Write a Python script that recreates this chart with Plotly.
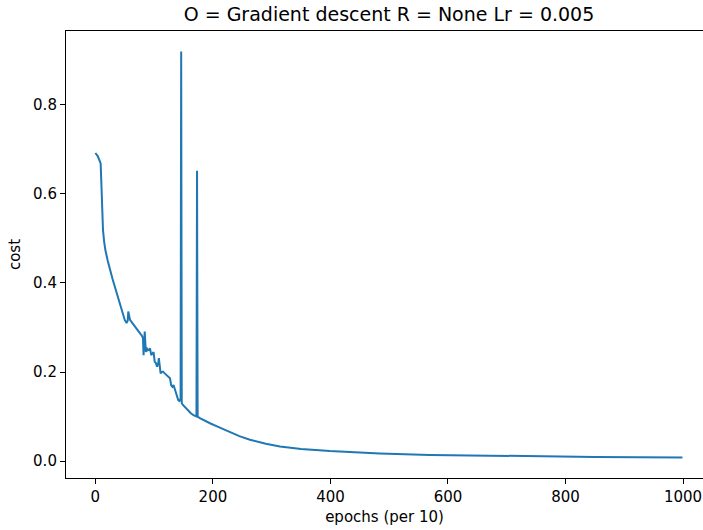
import plotly.graph_objects as go

epochs = [0, 4, 8, 9, 10, 11, 12, 13, 15, 17, 21, 25, 29, 33, 38, 42, 46, 50, 53, 55, 56, 57,
          59, 63, 68, 73, 77, 79, 81, 82, 83, 84, 85, 86, 87, 89, 91, 93, 95, 97, 99, 101,
          103, 105, 107, 108, 109, 111, 113, 115, 118, 121, 124, 127, 129, 131, 133, 135, 137, 139, 141, 143,
          145, 146, 147, 149, 153, 157, 162, 167, 172, 173, 174, 177, 181, 188, 195, 205, 217, 229, 245, 263,
          290, 314, 350, 399, 450, 484, 569, 654, 750, 850, 999]
cost = [0.692, 0.685, 0.672, 0.668, 0.630, 0.575, 0.540, 0.518, 0.492, 0.474, 0.450, 0.428, 0.410, 0.392, 0.370, 0.354, 0.335, 0.317, 0.310, 0.315, 0.336, 0.325,
        0.317, 0.310, 0.300, 0.292, 0.285, 0.282, 0.276, 0.238, 0.260, 0.291, 0.265, 0.245, 0.255, 0.249, 0.250, 0.253, 0.238, 0.243, 0.245, 0.223,
        0.220, 0.212, 0.220, 0.231, 0.215, 0.197, 0.200, 0.201, 0.197, 0.193, 0.190, 0.186, 0.170, 0.167, 0.171, 0.163, 0.156, 0.148, 0.137, 0.135,
        0.140, 0.920, 0.130, 0.126, 0.120, 0.114, 0.108, 0.103, 0.100, 0.652, 0.100, 0.097, 0.094, 0.089, 0.085, 0.079, 0.072, 0.066, 0.056, 0.048,
        0.039, 0.033, 0.027, 0.0225, 0.019, 0.0172, 0.0138, 0.012, 0.0105, 0.0094, 0.0083]

x_ticks = [0, 200, 400, 600, 800, 1000]
y_ticks = [0.0, 0.2, 0.4, 0.6, 0.8]

fig = go.Figure()
fig.add_trace(go.Scatter(x=epochs, y=cost, mode="lines",
                         line=dict(color="#1f77b4", width=2)))

font = "DejaVu Sans"
fig.update_layout(
    width=703, height=530,
    margin=dict(l=66, r=0, t=31, b=52, autoexpand=False),
    paper_bgcolor="white", plot_bgcolor="white",
    showlegend=False,
    font=dict(family=font, size=15, color="black"),
    title=dict(text="O = Gradient descent R = None Lr = 0.005",
               x=389 / 703, xanchor="center", y=1 - 14 / 530, yanchor="middle",
               font=dict(family=font, size=19, color="black")),
    xaxis=dict(range=[-50, 1034], tickvals=x_ticks, ticktext=[str(v) for v in x_ticks],
               automargin=False,
               showgrid=False, zeroline=False, showline=True, linecolor="black", linewidth=1.1,
               mirror=True, ticks="outside", ticklen=5, tickwidth=1.1, tickcolor="black",
               title=dict(text="epochs (per 10)", standoff=6, font=dict(size=15)),
               tickfont=dict(size=15)),
    yaxis=dict(range=[-0.038, 0.966], tickvals=y_ticks, ticktext=["%.1f" % v for v in y_ticks],
               automargin=False,
               showgrid=False, zeroline=False, showline=True, linecolor="black", linewidth=1.1,
               mirror=False, ticks="outside", ticklen=5, tickwidth=1.1, tickcolor="black",
               title=dict(text="cost", standoff=8, font=dict(size=15)),
               tickfont=dict(size=15)),
)

fig.write_html("out.html", config={"displayModeBar": False},
               post_script="document.body.style.margin='0';")
